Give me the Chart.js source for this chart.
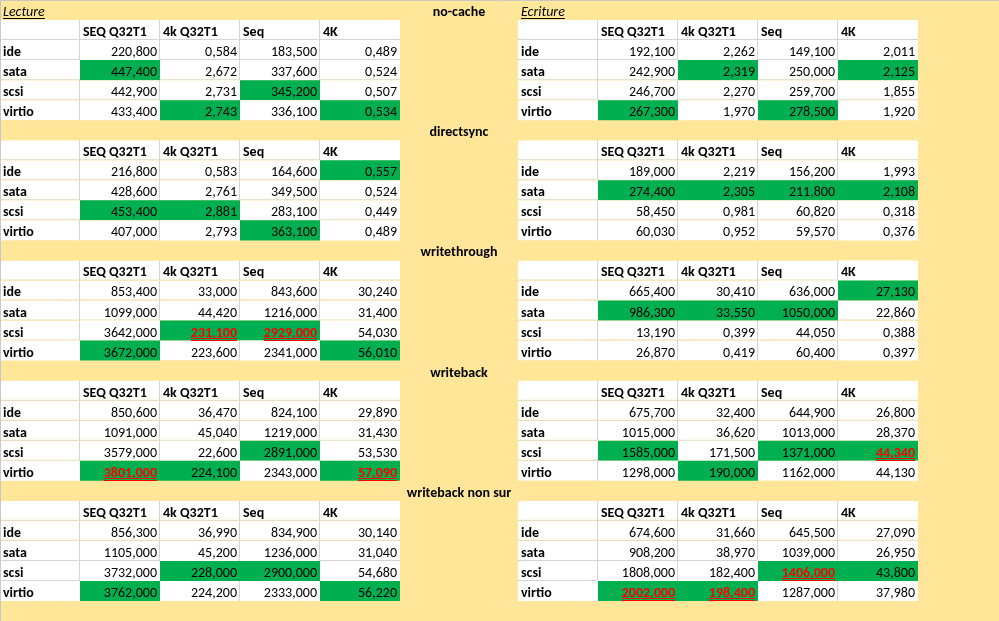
<!DOCTYPE html>
<html>
<head>
<meta charset="utf-8">
<script src="https://cdn.jsdelivr.net/npm/chart.js@4.4.1/dist/chart.umd.min.js"></script>
<style>
  html, body { margin: 0; padding: 0; background: #FFE699; }
  #wrap { width: 999px; height: 621px; position: relative; }
</style>
</head>
<body>
<div id="wrap"><canvas id="sheet"></canvas></div>
<script>
// modes de cache (un bloc par mode)
const caches = ['no-cache', 'directsync', 'writethrough', 'writeback', 'writeback non sur'];
const tests = ['SEQ Q32T1', '4k Q32T1', 'Seq', '4K'];
const buses = ['ide', 'sata', 'scsi', 'virtio'];
const sides = ['Lecture', 'Ecriture'];

// lecture : [cache][bus][test]
const lecture = [
  [[220.8, 0.584, 183.5, 0.489], [447.4, 2.672, 337.6, 0.524], [442.9, 2.731, 345.2, 0.507], [433.4, 2.743, 336.1, 0.534]],
  [[216.8, 0.583, 164.6, 0.557], [428.6, 2.761, 349.5, 0.524], [453.4, 2.881, 283.1, 0.449], [407.0, 2.793, 363.1, 0.489]],
  [[853.4, 33.0, 843.6, 30.24], [1099, 44.42, 1216, 31.4], [3642, 231.1, 2929, 54.03], [3672, 223.6, 2341, 56.01]],
  [[850.6, 36.47, 824.1, 29.89], [1091, 45.04, 1219, 31.43], [3579, 22.6, 2891, 53.53], [3801, 224.1, 2343, 57.09]],
  [[856.3, 36.99, 834.9, 30.14], [1105, 45.2, 1236, 31.04], [3732, 228.0, 2900, 54.68], [3762, 224.2, 2333, 56.22]]
];

// ecriture : [cache][bus][test]
const ecriture = [
  [[192.1, 2.262, 149.1, 2.011], [242.9, 2.319, 250.0, 2.125], [246.7, 2.270, 259.7, 1.855], [267.3, 1.970, 278.5, 1.920]],
  [[189.0, 2.219, 156.2, 1.993], [274.4, 2.305, 211.8, 2.108], [58.45, 0.981, 60.82, 0.318], [60.03, 0.952, 59.57, 0.376]],
  [[665.4, 30.41, 636.0, 27.13], [986.3, 33.55, 1050, 22.86], [13.19, 0.399, 44.05, 0.388], [26.87, 0.419, 60.4, 0.397]],
  [[675.7, 32.4, 644.9, 26.8], [1015, 36.62, 1013, 28.37], [1585, 171.5, 1371, 44.34], [1298, 190.0, 1162, 44.13]],
  [[674.6, 31.66, 645.5, 27.09], [908.2, 38.97, 1039, 26.95], [1808, 182.4, 1406, 43.8], [2002, 198.4, 1287, 37.98]]
];

// 0 = normal, 1 = vert, 2 = vert + rouge souligne
const lectureMarks = [
  [[0, 0, 0, 0], [1, 0, 0, 0], [0, 0, 1, 0], [0, 1, 0, 1]],
  [[0, 0, 0, 1], [0, 0, 0, 0], [1, 1, 0, 0], [0, 0, 1, 0]],
  [[0, 0, 0, 0], [0, 0, 0, 0], [0, 2, 2, 0], [1, 0, 0, 1]],
  [[0, 0, 0, 0], [0, 0, 0, 0], [0, 0, 1, 0], [2, 1, 0, 2]],
  [[0, 0, 0, 0], [0, 0, 0, 0], [0, 1, 1, 0], [1, 0, 0, 1]]
];
const ecritureMarks = [
  [[0, 0, 0, 0], [0, 1, 0, 1], [0, 0, 0, 0], [1, 0, 1, 0]],
  [[0, 0, 0, 0], [1, 1, 1, 1], [0, 0, 0, 0], [0, 0, 0, 0]],
  [[0, 0, 0, 1], [1, 1, 1, 0], [0, 0, 0, 0], [0, 0, 0, 0]],
  [[0, 0, 0, 0], [0, 0, 0, 0], [1, 0, 1, 2], [0, 1, 0, 0]],
  [[0, 0, 0, 0], [0, 0, 0, 0], [0, 0, 2, 1], [2, 2, 0, 0]]
];

const GREEN = '#00B050';
const YELLOW = '#FFE699';
const GRID = '#D4D4D4';
const FONT = '14px Carlito, Calibri, "Liberation Sans", sans-serif';
const X_OFF = [0, 6.475];   // debut de chaque tableau (en largeurs de colonne)
const COLS = 999 / 80;
const ROWS = 31;

const tables = [lecture, ecriture];
const allMarks = [lectureMarks, ecritureMarks];

function fmt(v) {
  return v.toFixed(3).replace('.', ',');
}

function markAt(t, k, r, c) {
  if (r < 1 || c < 1 || r > 4 || c > 4) return 0;
  return allMarks[t][k][r - 1][c - 1];
}

// une cellule = une barre flottante
const cells = [];
tables.forEach((tbl, t) => {
  caches.forEach((cache, k) => {
    const top = k * 6 + 1;
    for (let r = 0; r < 5; r++) {
      for (let c = 0; c < 5; c++) {
        let text = '', align = 'left', bold = false;
        if (r === 0 && c > 0) { text = tests[c - 1]; bold = true; }
        else if (c === 0 && r > 0) { text = buses[r - 1]; bold = true; }
        else if (r > 0 && c > 0) { text = fmt(tbl[k][r - 1][c - 1]); align = 'right'; }
        cells.push({
          x: [X_OFF[t] + c, X_OFF[t] + c + 1],
          y: top + r + 0.5,
          text, align, bold,
          mark: markAt(t, k, r, c),
          t, k, r, c
        });
      }
    }
  });
});

function cellBorder(ctx) {
  const p = ctx.raw;
  if (!p || p.mark) return 0;
  const right = (p.c < 4 && !markAt(p.t, p.k, p.r, p.c + 1)) ? 1 : 0;
  const bottom = (p.r < 4 && !markAt(p.t, p.k, p.r + 1, p.c)) ? 1 : 0;
  return { top: 0, left: 0, right, bottom };
}

const sheetBg = {
  id: 'sheetBg',
  beforeDraw(chart) {
    const ctx = chart.ctx;
    ctx.save();
    ctx.fillStyle = YELLOW;
    ctx.fillRect(0, 0, chart.width, chart.height);
    ctx.restore();
  },
  afterDraw(chart) {
    const ctx = chart.ctx;
    ctx.save();
    ctx.strokeStyle = '#C8C8C8';
    ctx.lineWidth = 1;
    ctx.beginPath();
    ctx.moveTo(0, 0.5); ctx.lineTo(chart.width, 0.5);
    ctx.moveTo(0.5, 0); ctx.lineTo(0.5, chart.height);
    ctx.stroke();
    ctx.restore();
  }
};

const cellText = {
  id: 'cellText',
  afterDatasetsDraw(chart) {
    const ctx = chart.ctx;
    const meta = chart.getDatasetMeta(0);
    const pts = chart.data.datasets[0].data;
    ctx.save();
    ctx.textBaseline = 'alphabetic';
    meta.data.forEach((bar, i) => {
      const p = pts[i];
      if (!p.text) return;
      const { x, y, base, height } = bar.getProps(['x', 'y', 'base', 'height'], true);
      const left = Math.min(x, base), right = Math.max(x, base);
      const baseline = Math.round(y + height / 2) - 4;
      const red = p.mark === 2;
      ctx.font = (p.bold || red ? 'bold ' : '') + FONT;
      ctx.fillStyle = red ? '#FF0000' : '#000000';
      ctx.textAlign = p.align;
      const tx = p.align === 'left' ? left + 3 : right - 3;
      ctx.fillText(p.text, tx, baseline);
      if (red) {
        const w = ctx.measureText(p.text).width;
        ctx.fillRect(tx - w, baseline + 1, w, 1);
        ctx.fillRect(tx - w, baseline + 3, w, 1);
      }
    });

    // titres des blocs
    const xs = chart.scales.x, ys = chart.scales.y;
    ctx.fillStyle = '#000000';
    caches.forEach((cache, k) => {
      const yb = Math.round(ys.getPixelForValue(k * 6 + 0.5)) + 6;
      ctx.font = 'bold ' + FONT;
      ctx.textAlign = 'center';
      ctx.fillText(cache, xs.getPixelForValue((5 + X_OFF[1]) / 2), yb);
      if (k === 0) {
        ctx.font = 'italic ' + FONT;
        ctx.textAlign = 'left';
        sides.forEach((s, t) => {
          const sx = xs.getPixelForValue(X_OFF[t]) + 3;
          ctx.fillText(s, sx, yb);
          const w = ctx.measureText(s).width;
          ctx.fillRect(sx, yb + 2, w, 1);
        });
      }
    });
    ctx.restore();
  }
};

new Chart(document.getElementById('sheet'), {
  type: 'bar',
  data: {
    datasets: [{
      data: cells,
      backgroundColor: ctx => (ctx.raw && ctx.raw.mark) ? GREEN : '#FFFFFF',
      borderColor: GRID,
      borderWidth: cellBorder,
      borderSkipped: false,
      inflateAmount: 0,
      categoryPercentage: 1,
      barPercentage: 1
    }]
  },
  options: {
    indexAxis: 'y',
    responsive: true,
    maintainAspectRatio: false,
    animation: false,
    events: [],
    layout: { padding: 0 },
    scales: {
      x: { type: 'linear', min: 0, max: COLS, display: false },
      y: { type: 'linear', min: 0, max: ROWS, reverse: true, offset: false, display: false, ticks: { stepSize: 1 } }
    },
    plugins: {
      legend: { display: false },
      tooltip: { enabled: false }
    }
  },
  plugins: [sheetBg, cellText]
});
</script>
</body>
</html>
